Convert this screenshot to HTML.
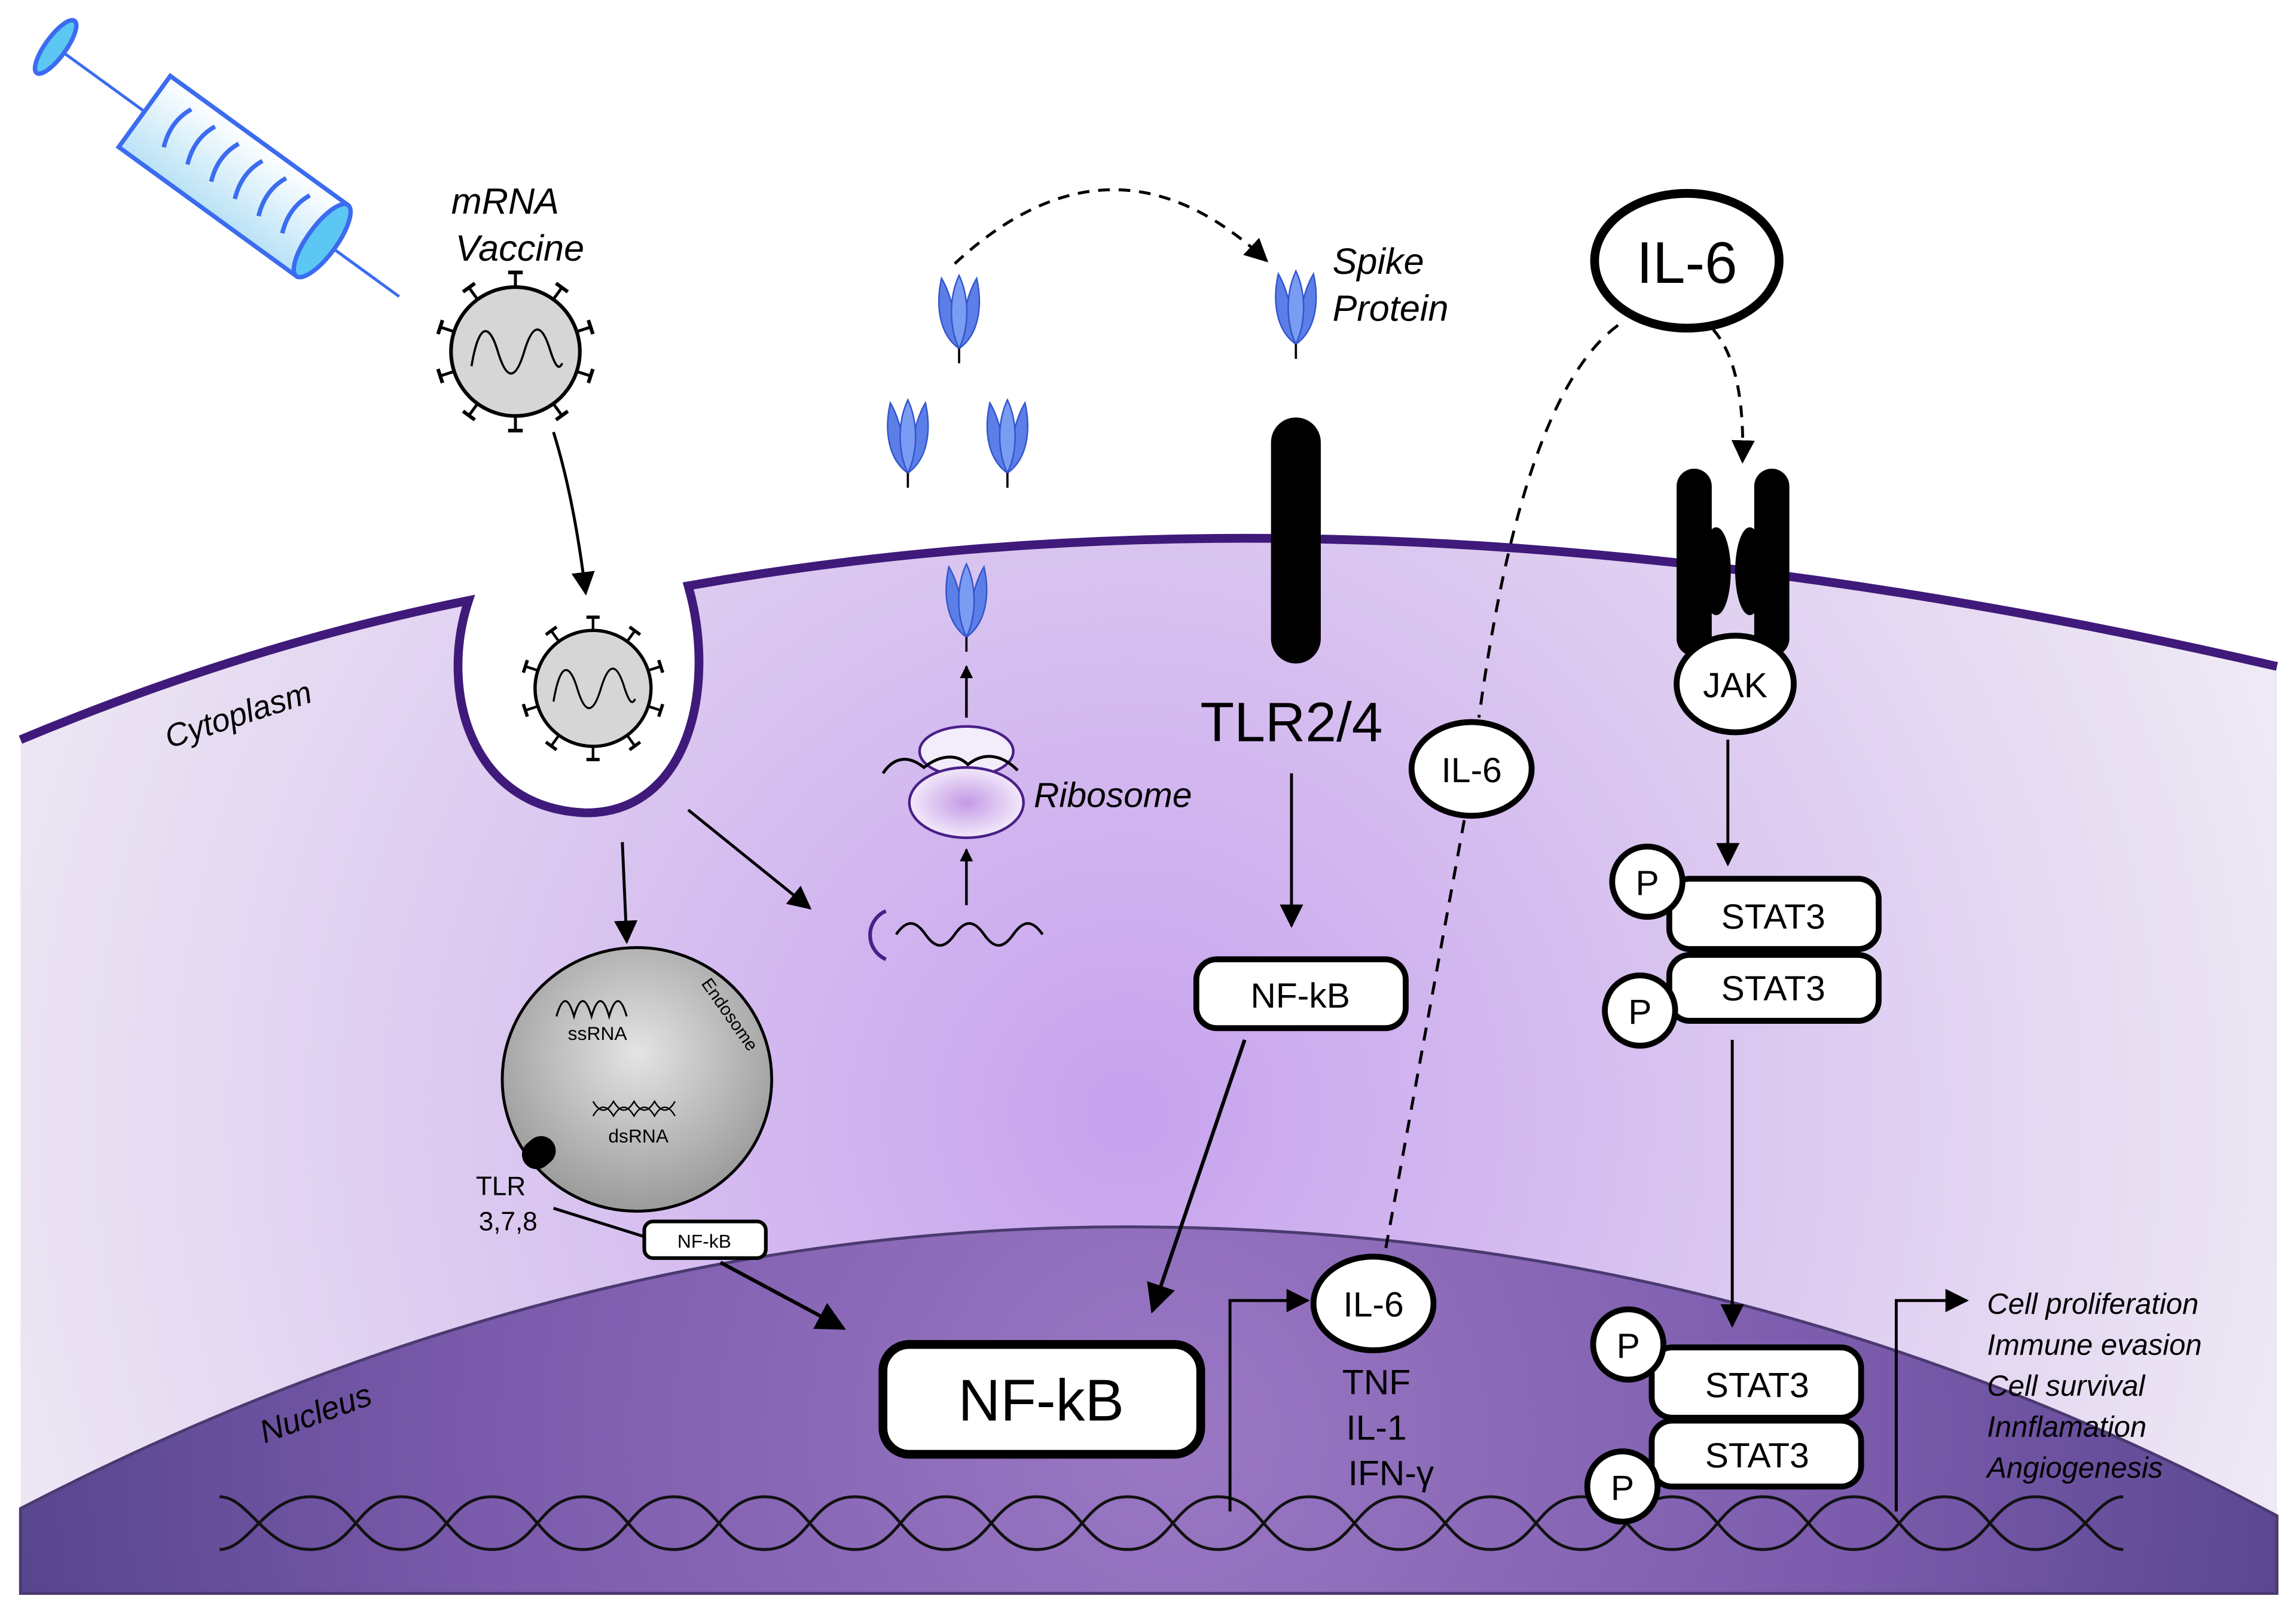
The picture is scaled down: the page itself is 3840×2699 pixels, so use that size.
<!DOCTYPE html>
<html><head><meta charset="utf-8"><style>
html,body{margin:0;padding:0;background:#fff;}
svg{display:block;}
text{font-family:"Liberation Sans",sans-serif;}
</style></head><body>
<svg width="3840" height="2699" viewBox="0 0 1568 1102" xmlns="http://www.w3.org/2000/svg">
<defs>
<radialGradient id="cell" cx="770" cy="760" r="820" gradientUnits="userSpaceOnUse">
<stop offset="0" stop-color="#c7a2ee"/><stop offset="0.5" stop-color="#dac6f0"/><stop offset="1" stop-color="#eee9f4"/></radialGradient>
<radialGradient id="nuc" cx="800" cy="980" r="800" gradientUnits="userSpaceOnUse">
<stop offset="0" stop-color="#9a78c4"/><stop offset="0.6" stop-color="#7a5aab"/><stop offset="1" stop-color="#56458e"/></radialGradient>
<radialGradient id="endo" cx="0.5" cy="0.4" r="0.6"><stop offset="0" stop-color="#e4e4e4"/><stop offset="1" stop-color="#9a9a9a"/></radialGradient>
<radialGradient id="ribo" cx="0.5" cy="0.5" r="0.5"><stop offset="0" stop-color="#c49ae6"/><stop offset="1" stop-color="#f2e9fa"/></radialGradient>
<linearGradient id="syr" x1="0" y1="0" x2="0" y2="1"><stop offset="0" stop-color="#ffffff"/><stop offset="1" stop-color="#b9e2f6"/></linearGradient>
<marker id="ah" viewBox="0 0 10 10" refX="9" refY="5" markerWidth="8" markerHeight="8" orient="auto"><path d="M0,0 L10,5 L0,10 z" fill="#000"/></marker>
<marker id="ah2" viewBox="0 0 10 10" refX="9" refY="5" markerWidth="5" markerHeight="5" orient="auto"><path d="M0,0 L10,5 L0,10 z" fill="#000"/></marker>
<g id="spike"><line x1="0" y1="-44" x2="0" y2="-54" stroke="#000" stroke-width="2"/><line x1="-5" y1="-54" x2="5" y2="-54" stroke="#000" stroke-width="2.5"/></g>
<g id="virus">
<use href="#spike"/><use href="#spike" transform="rotate(36)"/><use href="#spike" transform="rotate(72)"/><use href="#spike" transform="rotate(108)"/><use href="#spike" transform="rotate(144)"/><use href="#spike" transform="rotate(180)"/><use href="#spike" transform="rotate(216)"/><use href="#spike" transform="rotate(252)"/><use href="#spike" transform="rotate(288)"/><use href="#spike" transform="rotate(324)"/>
<circle r="44" fill="#d6d6d6" stroke="#000" stroke-width="2.5"/>
<path d="M-30,10 C-25,-20 -18,-20 -12,0 C-6,20 0,20 6,0 C12,-20 18,-20 24,0 C28,12 30,12 32,8" fill="none" stroke="#000" stroke-width="1.5"/>
</g>
<g id="sp">
<path d="M0,30 C-14,20 -16,0 -12,-18 C-6,-8 -2,8 0,30 z" fill="#5b7fe6" stroke="#3355cc" stroke-width="1"/>
<path d="M0,30 C14,20 16,0 12,-18 C6,-8 2,8 0,30 z" fill="#5b7fe6" stroke="#3355cc" stroke-width="1"/>
<path d="M0,30 C-7,15 -7,-5 0,-20 C7,-5 7,15 0,30 z" fill="#7b9cf3" stroke="#3355cc" stroke-width="1"/>
<line x1="0" y1="30" x2="0" y2="40" stroke="#000" stroke-width="1.5"/>
</g>
</defs>
<rect width="1568" height="1102" fill="#fff"/>
<!-- cell -->
<path d="M14,505 Q170,440 320,410 C300,470 320,552 400,555 C470,555 490,470 470,400 C750,350 1100,350 1555,455 L1555,1088 L14,1088 z" fill="url(#cell)"/>
<path d="M14,505 Q170,440 320,410 C300,470 320,552 400,555 C470,555 490,470 470,400 C750,350 1100,350 1555,455" fill="none" stroke="#3f1a7a" stroke-width="6"/>
<path d="M14,1030 Q400,830 800,838 Q1200,845 1555,1035 L1555,1088 L14,1088 z" fill="url(#nuc)" stroke="#4a3a70" stroke-width="2"/>
<text x="165" y="495" font-size="22" font-style="italic" transform="rotate(-18 165 495)" text-anchor="middle">Cytoplasm</text>
<text x="218" y="972" font-size="22" font-style="italic" transform="rotate(-20 218 972)" text-anchor="middle">Nucleus</text>
<!-- syringe -->
<g transform="translate(38,32) rotate(36)">
<line x1="0" y1="0" x2="290" y2="0" stroke="#3b6cf0" stroke-width="2"/>
<ellipse cx="0" cy="0" rx="7" ry="22" fill="#5bc7f2" stroke="#3b6cf0" stroke-width="3"/>
<rect x="75" y="-30" width="150" height="60" fill="url(#syr)" stroke="#3b6cf0" stroke-width="3"/>
<ellipse cx="225" cy="0" rx="10" ry="30" fill="#5bc7f2" stroke="#3b6cf0" stroke-width="3"/>
<g fill="none" stroke="#3b6cf0" stroke-width="3">
<path d="M100,-20 q-7,15 0,32"/><path d="M120,-20 q-7,15 0,32"/><path d="M140,-20 q-7,15 0,32"/><path d="M160,-20 q-7,15 0,32"/><path d="M180,-20 q-7,15 0,32"/><path d="M200,-20 q-7,15 0,32"/></g>
</g>
<text x="345" y="146" font-size="25" font-style="italic" text-anchor="middle">mRNA</text>
<text x="355" y="178" font-size="25" font-style="italic" text-anchor="middle">Vaccine</text>
<use href="#virus" transform="translate(352,240)"/>
<path d="M378,295 Q392,340 400,405" fill="none" stroke="#000" stroke-width="2" marker-end="url(#ah)"/>
<use href="#virus" transform="translate(405,470) scale(0.9)"/>
<line x1="425" y1="575" x2="428" y2="643" stroke="#000" stroke-width="2" marker-end="url(#ah)"/>
<line x1="470" y1="553" x2="553" y2="620" stroke="#000" stroke-width="2" marker-end="url(#ah)"/>
<!-- endosome -->
<ellipse cx="435" cy="737" rx="92" ry="90" fill="url(#endo)" stroke="#000" stroke-width="2"/>
<path d="M380,694 c4,-14 8,-14 12,0 c4,-14 8,-14 12,0 c4,-14 8,-14 12,0 c4,-14 8,-14 12,0" fill="none" stroke="#000" stroke-width="1.3"/>
<text x="408" y="710" font-size="13" text-anchor="middle">ssRNA</text>
<path d="M405,752 q7,12 14,0 q7,12 14,0 q7,12 14,0 q7,12 14,0 M405,762 q7,-12 14,0 q7,-12 14,0 q7,-12 14,0 q7,-12 14,0" fill="none" stroke="#000" stroke-width="1"/>
<text x="436" y="780" font-size="13" text-anchor="middle">dsRNA</text>
<text x="495" y="695" font-size="12" transform="rotate(55 495 695)" text-anchor="middle">Endosome</text>
<rect x="356" y="777" width="24" height="20" rx="10" fill="#000" transform="rotate(-40 368 787)"/>
<text x="342" y="816" font-size="18" text-anchor="middle">TLR</text>
<text x="347" y="840" font-size="18" text-anchor="middle">3,7,8</text>
<line x1="378" y1="825" x2="442" y2="845" stroke="#000" stroke-width="2"/>
<rect x="440" y="834" width="83" height="25" rx="6" fill="#fff" stroke="#000" stroke-width="2.5"/>
<text x="481" y="852" font-size="13" text-anchor="middle">NF-kB</text>
<line x1="492" y1="862" x2="576" y2="907" stroke="#000" stroke-width="2.5" marker-end="url(#ah)"/>
<!-- mRNA & ribosome -->
<path d="M605,622 A18,18 0 0 0 605,655" fill="none" stroke="#4a1f88" stroke-width="2.5"/>
<path d="M612,638 c7,-10 13,-10 20,0 c7,10 13,10 20,0 c7,-10 13,-10 20,0 c7,10 13,10 20,0 c7,-10 13,-10 20,0" fill="none" stroke="#000" stroke-width="1.8"/>
<line x1="660" y1="618" x2="660" y2="580" stroke="#000" stroke-width="1.8" marker-end="url(#ah2)"/>
<ellipse cx="660" cy="513" rx="32" ry="17" fill="#f3ecfb" stroke="#4a1f88" stroke-width="1.8"/>
<ellipse cx="660" cy="548" rx="39" ry="24" fill="url(#ribo)" stroke="#4a1f88" stroke-width="1.8"/>
<path d="M603,528 c8,-12 18,-12 28,-4 c10,-8 22,-10 30,-2 c10,-8 22,-8 34,4" fill="none" stroke="#000" stroke-width="2"/>
<text x="706" y="551" font-size="24" font-style="italic">Ribosome</text>
<line x1="660" y1="490" x2="660" y2="455" stroke="#000" stroke-width="1.8" marker-end="url(#ah2)"/>
<use href="#sp" transform="translate(660,405)"/>
<use href="#sp" transform="translate(655,208)"/>
<use href="#sp" transform="translate(620,293)"/>
<use href="#sp" transform="translate(688,293)"/>
<use href="#sp" transform="translate(885,205)"/>
<path d="M652,180 Q760,80 865,178" fill="none" stroke="#000" stroke-width="2" stroke-dasharray="8,6" marker-end="url(#ah)"/>
<text x="910" y="187" font-size="25" font-style="italic">Spike</text>
<text x="910" y="219" font-size="25" font-style="italic">Protein</text>
<!-- TLR2/4 -->
<rect x="868" y="285" width="34" height="168" rx="17" fill="#000"/>
<text x="882" y="506" font-size="38" text-anchor="middle">TLR2/4</text>
<line x1="882" y1="528" x2="882" y2="632" stroke="#000" stroke-width="2" marker-end="url(#ah)"/>
<rect x="817" y="655" width="143" height="47" rx="14" fill="#fff" stroke="#000" stroke-width="4"/>
<text x="888" y="688" font-size="24" text-anchor="middle">NF-kB</text>
<line x1="850" y1="710" x2="787" y2="895" stroke="#000" stroke-width="2.5" marker-end="url(#ah)"/>
<rect x="603" y="918" width="217" height="75" rx="18" fill="#fff" stroke="#000" stroke-width="6"/>
<text x="711" y="970" font-size="40" text-anchor="middle">NF-kB</text>
<!-- IL-6 -->
<path d="M1105,222 Q1040,270 1010,490 M1000,560 L945,860" fill="none" stroke="#000" stroke-width="2" stroke-dasharray="9,7"/>
<path d="M1170,225 Q1192,250 1190,315" fill="none" stroke="#000" stroke-width="2" stroke-dasharray="8,6" marker-end="url(#ah)"/>
<ellipse cx="1152" cy="178" rx="63" ry="46" fill="#fff" stroke="#000" stroke-width="6"/>
<text x="1152" y="193" font-size="40" text-anchor="middle">IL-6</text>
<ellipse cx="1005" cy="525" rx="41" ry="32" fill="#fff" stroke="#000" stroke-width="4"/>
<text x="1005" y="534" font-size="24" text-anchor="middle">IL-6</text>
<!-- receptor -->
<rect x="1145" y="320" width="24" height="128" rx="12" fill="#000"/>
<rect x="1198" y="320" width="24" height="128" rx="12" fill="#000"/>
<ellipse cx="1172" cy="390" rx="10" ry="30" fill="#000"/>
<ellipse cx="1195" cy="390" rx="10" ry="30" fill="#000"/>
<ellipse cx="1185" cy="467" rx="40" ry="33" fill="#fff" stroke="#000" stroke-width="4"/>
<text x="1185" y="476" font-size="24" text-anchor="middle">JAK</text>
<line x1="1180" y1="505" x2="1180" y2="590" stroke="#000" stroke-width="2" marker-end="url(#ah)"/>
<rect x="1140" y="600" width="143" height="48" rx="14" fill="#fff" stroke="#000" stroke-width="4"/>
<text x="1211" y="634" font-size="24" text-anchor="middle">STAT3</text>
<rect x="1140" y="652" width="143" height="45" rx="14" fill="#fff" stroke="#000" stroke-width="4"/>
<text x="1211" y="683" font-size="24" text-anchor="middle">STAT3</text>
<circle cx="1125" cy="602" r="24" fill="#fff" stroke="#000" stroke-width="4"/>
<text x="1125" y="611" font-size="24" text-anchor="middle">P</text>
<circle cx="1120" cy="690" r="24" fill="#fff" stroke="#000" stroke-width="4"/>
<text x="1120" y="699" font-size="24" text-anchor="middle">P</text>
<line x1="1183" y1="710" x2="1183" y2="905" stroke="#000" stroke-width="2" marker-end="url(#ah)"/>
<!-- DNA -->
<g fill="none" stroke="#111" stroke-width="2">
<path d="M150,1022 C170,1022 181,1058 212,1058 C243,1058 243,1022 274,1022 C305,1022 305,1058 336,1058 C367,1058 367,1022 398,1022 C429,1022 429,1058 460,1058 C491,1058 491,1022 522,1022 C553,1022 553,1058 584,1058 C615,1058 615,1022 646,1022 C677,1022 677,1058 708,1058 C739,1058 739,1022 770,1022 C801,1022 801,1058 832,1058 C863,1058 863,1022 894,1022 C925,1022 925,1058 956,1058 C987,1058 987,1022 1018,1022 C1049,1022 1049,1058 1080,1058 C1111,1058 1111,1022 1142,1022 C1173,1022 1173,1058 1204,1058 C1235,1058 1235,1022 1266,1022 C1297,1022 1297,1058 1328,1058 C1359,1058 1359,1022 1390,1022 C1421,1022 1430,1058 1450,1058"/>
<path d="M150,1058 C170,1058 181,1022 212,1022 C243,1022 243,1058 274,1058 C305,1058 305,1022 336,1022 C367,1022 367,1058 398,1058 C429,1058 429,1022 460,1022 C491,1022 491,1058 522,1058 C553,1058 553,1022 584,1022 C615,1022 615,1058 646,1058 C677,1058 677,1022 708,1022 C739,1022 739,1058 770,1058 C801,1058 801,1022 832,1022 C863,1022 863,1058 894,1058 C925,1058 925,1022 956,1022 C987,1022 987,1058 1018,1058 C1049,1058 1049,1022 1080,1022 C1111,1022 1111,1058 1142,1058 C1173,1058 1173,1022 1204,1022 C1235,1022 1235,1058 1266,1058 C1297,1058 1297,1022 1328,1022 C1359,1022 1359,1058 1390,1058 C1421,1058 1430,1022 1450,1022"/>
</g>
<!-- nucleus IL-6 -->
<path d="M840,1032 L840,888 L893,888" fill="none" stroke="#000" stroke-width="2" marker-end="url(#ah)"/>
<ellipse cx="938" cy="890" rx="41" ry="32" fill="#fff" stroke="#000" stroke-width="4"/>
<text x="938" y="899" font-size="24" text-anchor="middle">IL-6</text>
<text x="940" y="952" font-size="24" text-anchor="middle">TNF</text>
<text x="940" y="983" font-size="24" text-anchor="middle">IL-1</text>
<text x="950" y="1014" font-size="24" text-anchor="middle">IFN-γ</text>
<!-- lower STAT3 -->
<rect x="1128" y="920" width="143" height="48" rx="14" fill="#fff" stroke="#000" stroke-width="4"/>
<text x="1200" y="954" font-size="24" text-anchor="middle">STAT3</text>
<rect x="1128" y="970" width="143" height="45" rx="14" fill="#fff" stroke="#000" stroke-width="4"/>
<text x="1200" y="1002" font-size="24" text-anchor="middle">STAT3</text>
<circle cx="1112" cy="918" r="24" fill="#fff" stroke="#000" stroke-width="4"/>
<text x="1112" y="927" font-size="24" text-anchor="middle">P</text>
<circle cx="1108" cy="1015" r="24" fill="#fff" stroke="#000" stroke-width="4"/>
<text x="1108" y="1024" font-size="24" text-anchor="middle">P</text>
<path d="M1295,1032 L1295,888 L1343,888" fill="none" stroke="#000" stroke-width="2" marker-end="url(#ah)"/>
<g font-size="20" font-style="italic">
<text x="1357" y="897">Cell proliferation</text>
<text x="1357" y="925">Immune evasion</text>
<text x="1357" y="953">Cell survival</text>
<text x="1357" y="981">Innflamation</text>
<text x="1357" y="1009">Angiogenesis</text>
</g>
</svg>
</body></html>
